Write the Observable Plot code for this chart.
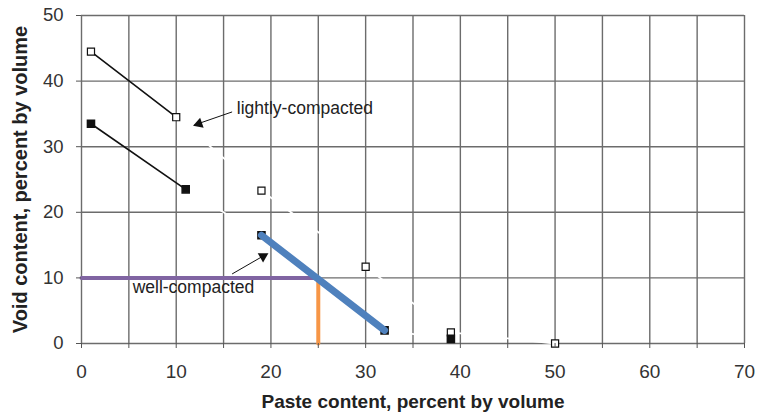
<!DOCTYPE html>
<html><head><meta charset="utf-8">
<script src="https://cdn.jsdelivr.net/npm/d3@7"></script>
<script src="https://cdn.jsdelivr.net/npm/@observablehq/plot@0.6"></script>
<style>body{margin:0;background:#fff}</style>
</head><body><div id="chart"></div>
<script>
// Data
const lightPaste = [1, 10, 19, 30, 39, 50];
const lightVoid  = [44.5, 34.5, 23.3, 11.7, 1.7, 0];
const wellPaste  = [1, 11, 19, 32, 39];
const wellVoid   = [33.5, 23.5, 16.5, 2, 0.7];
const xTicks = [0, 5, 10, 15, 20, 25, 30, 35, 40, 45, 50, 55, 60, 65, 70];
const yTicks = [0, 10, 20, 30, 40, 50];
const targetPaste = 25;
const targetVoid = 10;
const labelText = ["lightly-compacted", "well-compacted"];
const labelX = [16.4, 5.4];
const labelY = [35.8, 8.6];
const arrowX1 = [15.9, 15.9], arrowY1 = [35.3, 10.6];
const arrowX2 = [11.9, 19.5], arrowY2 = [33.3, 13.6];
const headX = [12.4, 19.17], headY = [33.5, 13.3], headAngle = [251, 60];
const xTitle = "Paste content, percent by volume";
const yTitle = "Void content, percent by volume";

const light = lightPaste.map((x, i) => ({x, y: lightVoid[i]}));
const well = wellPaste.map((x, i) => ({x, y: wellVoid[i]}));
const labels = labelText.map((t, i) => ({t, x: labelX[i], y: labelY[i]}));
const arrows = arrowX1.map((_, i) => ({x1: arrowX1[i], y1: arrowY1[i], x2: arrowX2[i], y2: arrowY2[i]}));
const heads = headX.map((x, i) => ({x, y: headY[i], a: headAngle[i]}));
const blueSeg = well.slice(2, 4);

const font = "'Liberation Sans',Arial,Helvetica,sans-serif";
const gridColor = "#6c6c6c";

const chart = Plot.plot({
  width: 760, height: 419,
  marginLeft: 81, marginRight: 16, marginTop: 15, marginBottom: 76,
  x: {domain: [0, 70]},
  y: {domain: [0, 50]},
  style: {fontFamily: font, color: "#333", background: "#fff"},
  marks: [
    Plot.ruleX(xTicks, {stroke: gridColor, strokeWidth: 1.4}),
    Plot.ruleY(yTicks, {stroke: gridColor, strokeWidth: 1.4}),
    // faint white connectors (as in the source image)
    Plot.line(light.slice(1), {x: "x", y: "y", stroke: "#fff", strokeWidth: 1.8}),
    Plot.line(well.slice(1, 3), {x: "x", y: "y", stroke: "#fff", strokeWidth: 1.8}),
    Plot.line(well.slice(3), {x: "x", y: "y", stroke: "#fff", strokeWidth: 1.8}),
    // black connectors
    Plot.line(light.slice(0, 2), {x: "x", y: "y", stroke: "#111", strokeWidth: 1.6}),
    Plot.line(well.slice(0, 2), {x: "x", y: "y", stroke: "#111", strokeWidth: 1.6}),
    // purple & orange guides
    Plot.line([{x: 0, y: targetVoid}, {x: targetPaste, y: targetVoid}], {x: "x", y: "y", stroke: "#8064A2", strokeWidth: 4}),
    Plot.line([{x: targetPaste, y: 0}, {x: targetPaste, y: targetVoid}], {x: "x", y: "y", stroke: "#F79646", strokeWidth: 4}),
    // markers
    Plot.dot(light, {x: "x", y: "y", symbol: "square", r: 4, fill: "#fff", stroke: "#111", strokeWidth: 1.2}),
    Plot.dot(well, {x: "x", y: "y", symbol: "square", r: 4, fill: "#111", stroke: "#111"}),
    // blue line
    Plot.line(blueSeg, {x: "x", y: "y", stroke: "#4F81BD", strokeWidth: 7}),
    // annotation arrows (shaft + filled head)
    Plot.link(arrows, {x1: "x1", y1: "y1", x2: "x2", y2: "y2", stroke: "#111", strokeWidth: 1}),
    Plot.dot(heads, {x: "x", y: "y", symbol: "triangle", r: 4, rotate: "a", fill: "#111", stroke: "none"}),
    Plot.text(labels, {x: "x", y: "y", text: "t", textAnchor: "start", fontSize: 17.5, fill: "#222", fontFamily: font}),
    // axes
    Plot.axisX({ticks: xTicks, tickFormat: d => d % 10 === 0 ? d : "", tickSize: 5, tickPadding: 16, fontSize: 19, stroke: "#555", label: null}),
    Plot.axisY({ticks: yTicks, tickSize: 5, tickPadding: 13, fontSize: 18.5, stroke: "#555", label: null}),
    Plot.text([xTitle], {frameAnchor: "bottom", dy: 64, fontSize: 19, fontWeight: "bold", fill: "#222", fontFamily: font}),
    Plot.text([yTitle], {frameAnchor: "left", dx: -61, rotate: -90, textAnchor: "middle", fontSize: 20, fontWeight: "bold", fill: "#222", fontFamily: font})
  ]
});
document.getElementById("chart").append(chart);
</script>
</body></html>
